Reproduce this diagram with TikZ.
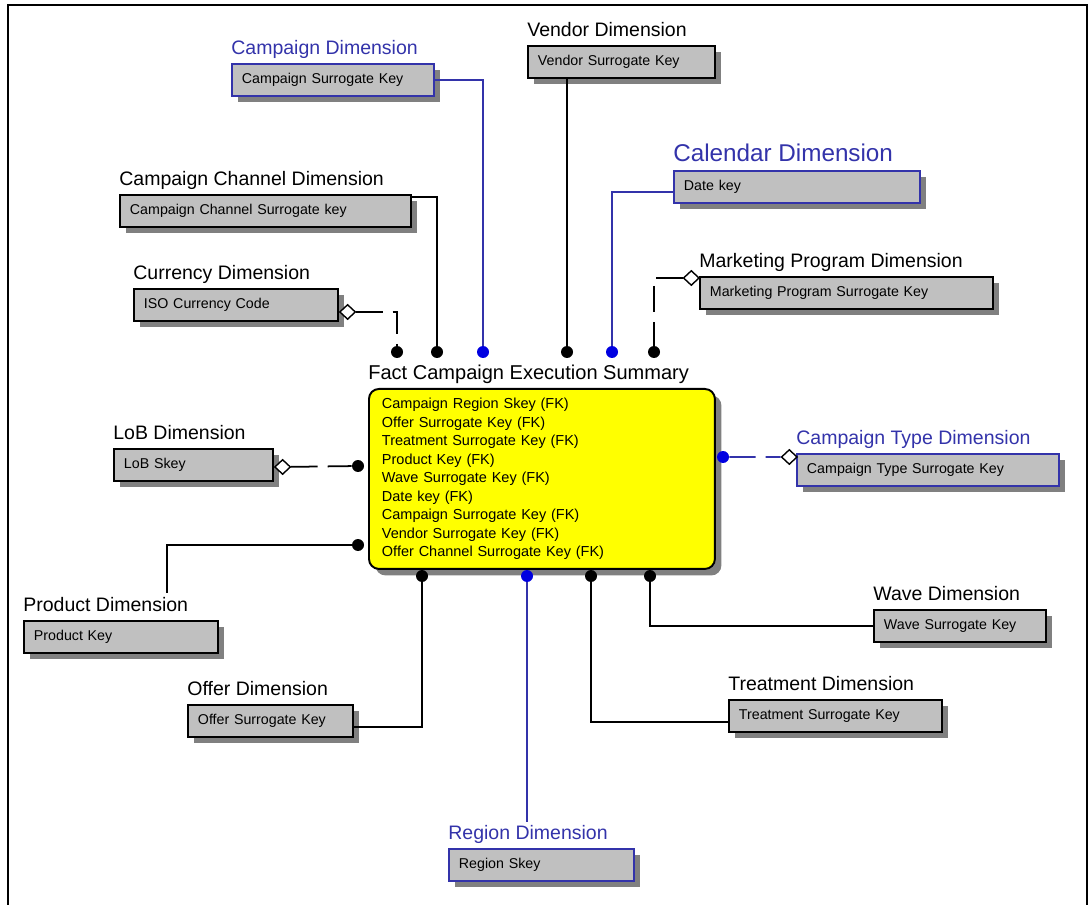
\documentclass[tikz,border=0pt]{standalone}
\usepackage{fontspec}
\setmainfont{Liberation Sans}
\usetikzlibrary{positioning,shapes.geometric,shadows}
\definecolor{boxgray}{RGB}{192,192,192}
\definecolor{ervblue}{RGB}{51,51,170}
\definecolor{dotblue}{RGB}{0,0,225}
\definecolor{factyellow}{RGB}{255,255,0}

\begin{document}
\begin{tikzpicture}[x=0.02cm,y=-0.02cm]
\tikzstyle{dim} = [rectangle, draw=black, line width=1.1pt, fill=boxgray, anchor=north west, minimum height=0.64cm, inner xsep=0.2cm, inner ysep=0pt, align=left, font=\fontsize{8.1}{9.5}\selectfont, drop shadow={shadow xshift=0.13cm, shadow yshift=-0.13cm, fill=black!50, opacity=1}]
\tikzstyle{bluedim} = [dim, draw=ervblue]
\tikzstyle{title} = [inner sep=0pt, text depth=0pt, font=\fontsize{11.1}{13}\selectfont]
\tikzstyle{bluetitle} = [title, text=ervblue]
\tikzstyle{fact} = [rectangle, rounded corners=0.2cm, draw=black, line width=1.1pt, fill=factyellow, anchor=north west, text width=6.4cm, inner xsep=0.26cm, minimum height=3.6cm, align=left, font=\fontsize{8.25}{10.5}\selectfont, drop shadow={shadow xshift=0.13cm, shadow yshift=-0.13cm, fill=black!50, opacity=1}]
\tikzstyle{dot} = [circle, fill=black, inner sep=0pt, minimum size=0.24cm]
\tikzstyle{bluedot} = [dot, fill=dotblue]
\tikzstyle{dia} = [diamond, draw=black, fill=white, line width=0.8pt, inner sep=0pt, minimum width=0.32cm, minimum height=0.3cm]
\tikzstyle{line} = [line width=1pt]
\tikzstyle{dashline} = [line, dash pattern=on 15pt off 5.7pt]
\tikzstyle{blueline} = [line, draw=ervblue]
\tikzstyle{bluedash} = [blueline, dash pattern=on 15pt off 5.7pt]

\useasboundingbox (0,0) rectangle (1092,905);
\draw [line width=1.6pt] (8,905) -- (8,5) -- (1087,5) -- (1087,905);

%nodes
\node (fact) [fact] at (368,388) {Campaign Region Skey (FK)\\Offer Surrogate Key (FK)\\Treatment Surrogate Key (FK)\\Product Key (FK)\\Wave Surrogate Key (FK)\\Date key (FK)\\Campaign Surrogate Key (FK)\\Vendor Surrogate Key (FK)\\Offer Channel Surrogate Key (FK)};
\node (factT) [title, font=\fontsize{11.4}{13}\selectfont, above right=4.4pt and 0pt of fact.north west] {Fact Campaign Execution Summary};

\node (camp) [bluedim, text width=3.64cm] at (231,63) {Campaign Surrogate Key};
\node (campT) [bluetitle, above right=4.5pt and 0pt of camp.north west] {Campaign Dimension};
\node (vend) [dim, text width=3.34cm] at (527,45) {Vendor Surrogate Key};
\node (vendT) [title, above right=4.5pt and 0pt of vend.north west] {Vendor Dimension};
\node (chan) [dim, text width=5.42cm] at (119,194) {Campaign Channel Surrogate key};
\node (chanT) [title, above right=4.5pt and 0pt of chan.north west] {Campaign Channel Dimension};
\node (curr) [dim, text width=3.68cm] at (133,288) {ISO Currency Code};
\node (currT) [title, above right=4.5pt and 0pt of curr.north west] {Currency Dimension};
\node (cal) [bluedim, text width=4.52cm] at (673,170) {Date key};
\node (calT) [bluetitle, font=\fontsize{13.8}{16}\selectfont, above right=4.7pt and 0pt of cal.north west] {Calendar Dimension};
\node (mark) [dim, text width=5.46cm] at (699,276) {Marketing Program Surrogate Key};
\node (markT) [title, above right=4.5pt and 0pt of mark.north west] {Marketing Program Dimension};
\node (lob) [dim, text width=2.78cm] at (113,448) {LoB Skey};
\node (lobT) [title, above right=4.5pt and 0pt of lob.north west] {LoB Dimension};
\node (ctype) [bluedim, text width=4.84cm] at (796,453) {Campaign Type Surrogate Key};
\node (ctypeT) [bluetitle, above right=4.5pt and 0pt of ctype.north west] {Campaign Type Dimension};
\node (prod) [dim, text width=3.48cm] at (23,620) {Product Key};
\node (prodT) [title, above right=4.5pt and 0pt of prod.north west] {Product Dimension};
\node (wave) [dim, text width=3.04cm] at (873,609) {Wave Surrogate Key};
\node (waveT) [title, above right=4.5pt and 0pt of wave.north west] {Wave Dimension};
\node (offer) [dim, text width=2.9cm] at (187,704) {Offer Surrogate Key};
\node (offerT) [title, above right=4.5pt and 0pt of offer.north west] {Offer Dimension};
\node (treat) [dim, text width=3.86cm] at (728,699) {Treatment Surrogate Key};
\node (treatT) [title, above right=4.5pt and 0pt of treat.north west] {Treatment Dimension};
\node (reg) [bluedim, text width=3.3cm] at (448,848) {Region Skey};
\node (regT) [bluetitle, above right=4.5pt and 0pt of reg.north west] {Region Dimension};

%dots on the fact table
\node (d1) [dot] at (397,352) {};
\node (d2) [dot] at (437,352) {};
\node (d3) [bluedot] at (483,352) {};
\node (d4) [dot] at (567,352) {};
\node (d5) [bluedot] at (612,352) {};
\node (d6) [dot] at (654,352) {};
\node (dl1) [dot] at (358,466) {};
\node (dl2) [dot] at (358,545) {};
\node (dr) [bluedot] at (723,457) {};
\node (db1) [dot] at (422,576) {};
\node (db2) [bluedot] at (527,576) {};
\node (db3) [dot] at (591,576) {};
\node (db4) [dot] at (650,576) {};

%diamonds
\node (currD) [dia, right=0pt of curr.east, yshift=-0.14cm] {};
\node (markD) [dia, left=-0.02cm of mark.north west, yshift=-0.04cm] {};
\node (lobD) [dia, right=0pt of lob.east, yshift=-0.04cm] {};
\node (ctypeD) [dia, left=-0.04cm of ctype.north west, yshift=-0.08cm] {};

\coordinate (prodEnd) at (167,593);
\coordinate (regEnd) at (527,822);

%lines
\draw [dashline] (currD) -| (d1);
\draw [line] ([yshift=-0.06cm]chan.north east) -| (d2);
\draw [blueline] (camp.east) -| (d3);
\draw [line] (vend.south -| d4) -- (d4);
\draw [blueline] ([yshift=-0.1cm]cal.west) -| (d5);
\draw [dashline] (markD) -| (d6);
\draw [dashline] (lobD) -- (dl1);
\draw [line] (dl2) -| (prodEnd);
\draw [bluedash] (dr) -- (ctypeD);
\draw [line] (db1) |- ([yshift=-0.12cm]offer.east);
\draw [blueline] (db2) -- (regEnd);
\draw [line] (db3) |- ([yshift=-0.12cm]treat.west);
\draw [line] (db4) |- (wave.west);
\end{tikzpicture}
\end{document}
